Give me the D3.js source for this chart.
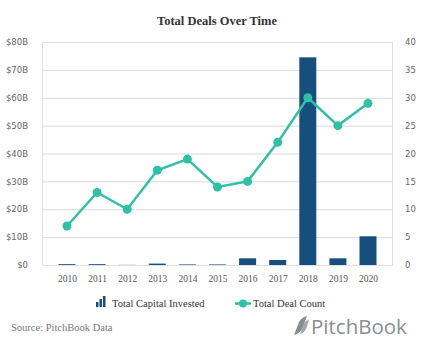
<!DOCTYPE html>
<html><head><meta charset="utf-8">
<script src="https://cdn.jsdelivr.net/npm/d3@7"></script>
<style>html,body{margin:0;padding:0;background:#fff;}svg{display:block;}</style>
</head><body>
<svg id="c" width="423" height="345"></svg>
<script>
const years = ["2010","2011","2012","2013","2014","2015","2016","2017","2018","2019","2020"];
const capital = [0.3,0.3,0.05,0.5,0.2,0.2,2.4,1.8,74.5,2.4,10.3];
const dealCount = [7,13,10,17,19,14,15,22,30,25,29];
const leftTicks = [0,10,20,30,40,50,60,70,80];
const rightTicks = [0,5,10,15,20,25,30,35,40];

const svg = d3.select("#c");
const L = 42, R = 393, T = 42, B = 265;
const x0 = d3.scalePoint().domain(years).range([67, 368]);
const yL = d3.scaleLinear().domain([0, 80]).range([B, T]);
const yR = d3.scaleLinear().domain([0, 40]).range([B, T]);

// gridlines
svg.append("g").selectAll("line").data(leftTicks).join("line")
  .attr("x1", L).attr("x2", R).attr("y1", d => yL(d)+0.5).attr("y2", d => yL(d)+0.5)
  .attr("stroke", "#d9d9d9").attr("stroke-width", 1);
// border
svg.append("rect").attr("x", L+0.5).attr("y", T+0.5).attr("width", R-L-1).attr("height", B-T)
  .attr("fill", "none").attr("stroke", "#e0e0e0");

// left axis
const axL = d3.axisLeft(yL).tickValues(leftTicks).tickSize(0).tickPadding(0)
  .tickFormat(d => d === 0 ? "$0" : "$" + d + "B");
const gL = svg.append("g").attr("transform", `translate(28,0)`).call(axL);
gL.select(".domain").remove();
gL.selectAll("text").attr("fill", "#666").style("font-family", "'DejaVu Sans', sans-serif").style("font-size", "8.5px").attr("text-anchor", "end");

const axR = d3.axisRight(yR).tickValues(rightTicks).tickSize(0).tickPadding(0);
const gR = svg.append("g").attr("transform", `translate(405,0)`).call(axR);
gR.select(".domain").remove();
gR.selectAll("text").attr("fill", "#666").style("font-family", "'DejaVu Sans', sans-serif").style("font-size", "8.5px");

const axB = d3.axisBottom(x0).tickSize(0).tickPadding(0);
const gB = svg.append("g").attr("transform", `translate(0,275)`).call(axB);
gB.select(".domain").remove();
gB.selectAll("text").attr("fill", "#555").style("font-family", "'Liberation Serif', serif").style("font-size", "9.5px");

// bars
const bw = 17;
svg.append("g").selectAll("rect").data(years).join("rect")
  .attr("x", d => x0(d) - bw/2).attr("width", bw)
  .attr("y", (d,i) => yL(capital[i])).attr("height", (d,i) => B - yL(capital[i]))
  .attr("fill", "#164f7e");

// line
const teal = "#2fc1a5";
const line = d3.line().x((d,i) => x0(years[i])).y(d => yR(d));
svg.append("path").datum(dealCount).attr("d", line).attr("fill", "none")
  .attr("stroke", teal).attr("stroke-width", 2.5);
svg.append("g").selectAll("circle").data(dealCount).join("circle")
  .attr("cx", (d,i) => x0(years[i])).attr("cy", d => yR(d)).attr("r", 4.5).attr("fill", teal);

// title
svg.append("text").attr("x", 217).attr("y", 25).attr("text-anchor", "middle")
  .style("font-family", "'Liberation Serif', serif").style("font-weight", "bold").style("font-size", "12.5px")
  .attr("fill", "#333").text("Total Deals Over Time");

// legend
const lg = svg.append("g");
[[96,302,2,5],[99.5,299,2,8],[103,296,2,11]].forEach(r => {
  lg.append("rect").attr("x", r[0]).attr("y", r[1]).attr("width", r[2]+0.5).attr("height", r[3]).attr("fill", "#164f7e");
});
lg.append("text").attr("x", 112).attr("y", 307).style("font-family", "'Liberation Serif', serif")
  .style("font-size", "10.5px").attr("fill", "#333").text("Total Capital Invested");
lg.append("line").attr("x1", 235).attr("x2", 251).attr("y1", 303.5).attr("y2", 303.5).attr("stroke", teal).attr("stroke-width", 2.5);
lg.append("circle").attr("cx", 243).attr("cy", 303.5).attr("r", 4).attr("fill", teal);
lg.append("text").attr("x", 253).attr("y", 307).style("font-family", "'Liberation Serif', serif")
  .style("font-size", "10.5px").attr("fill", "#333").text("Total Deal Count");

// source
svg.append("text").attr("x", 11).attr("y", 331).style("font-family", "'Liberation Serif', serif")
  .style("font-size", "10.5px").attr("fill", "#777").text("Source: PitchBook Data");

// logo
const logo = svg.append("g").attr("fill", "#8a8d91");
logo.append("path").attr("d", "M294,335 L299,322 Q302,317 307,316 L303,327 Q301,333 294,335 Z");
logo.append("path").attr("d", "M300,334 L304,324 Q306,320 309,320 L306,329 Q304,333 300,334 Z").attr("fill", "#a3a6a9");
logo.append("text").attr("x", 311).attr("y", 334).style("font-family", "'Open Sans', 'DejaVu Sans', sans-serif")
  .style("font-size", "20.5px").attr("fill", "#8a8d91").text("PitchBook");
</script>
</body></html>
